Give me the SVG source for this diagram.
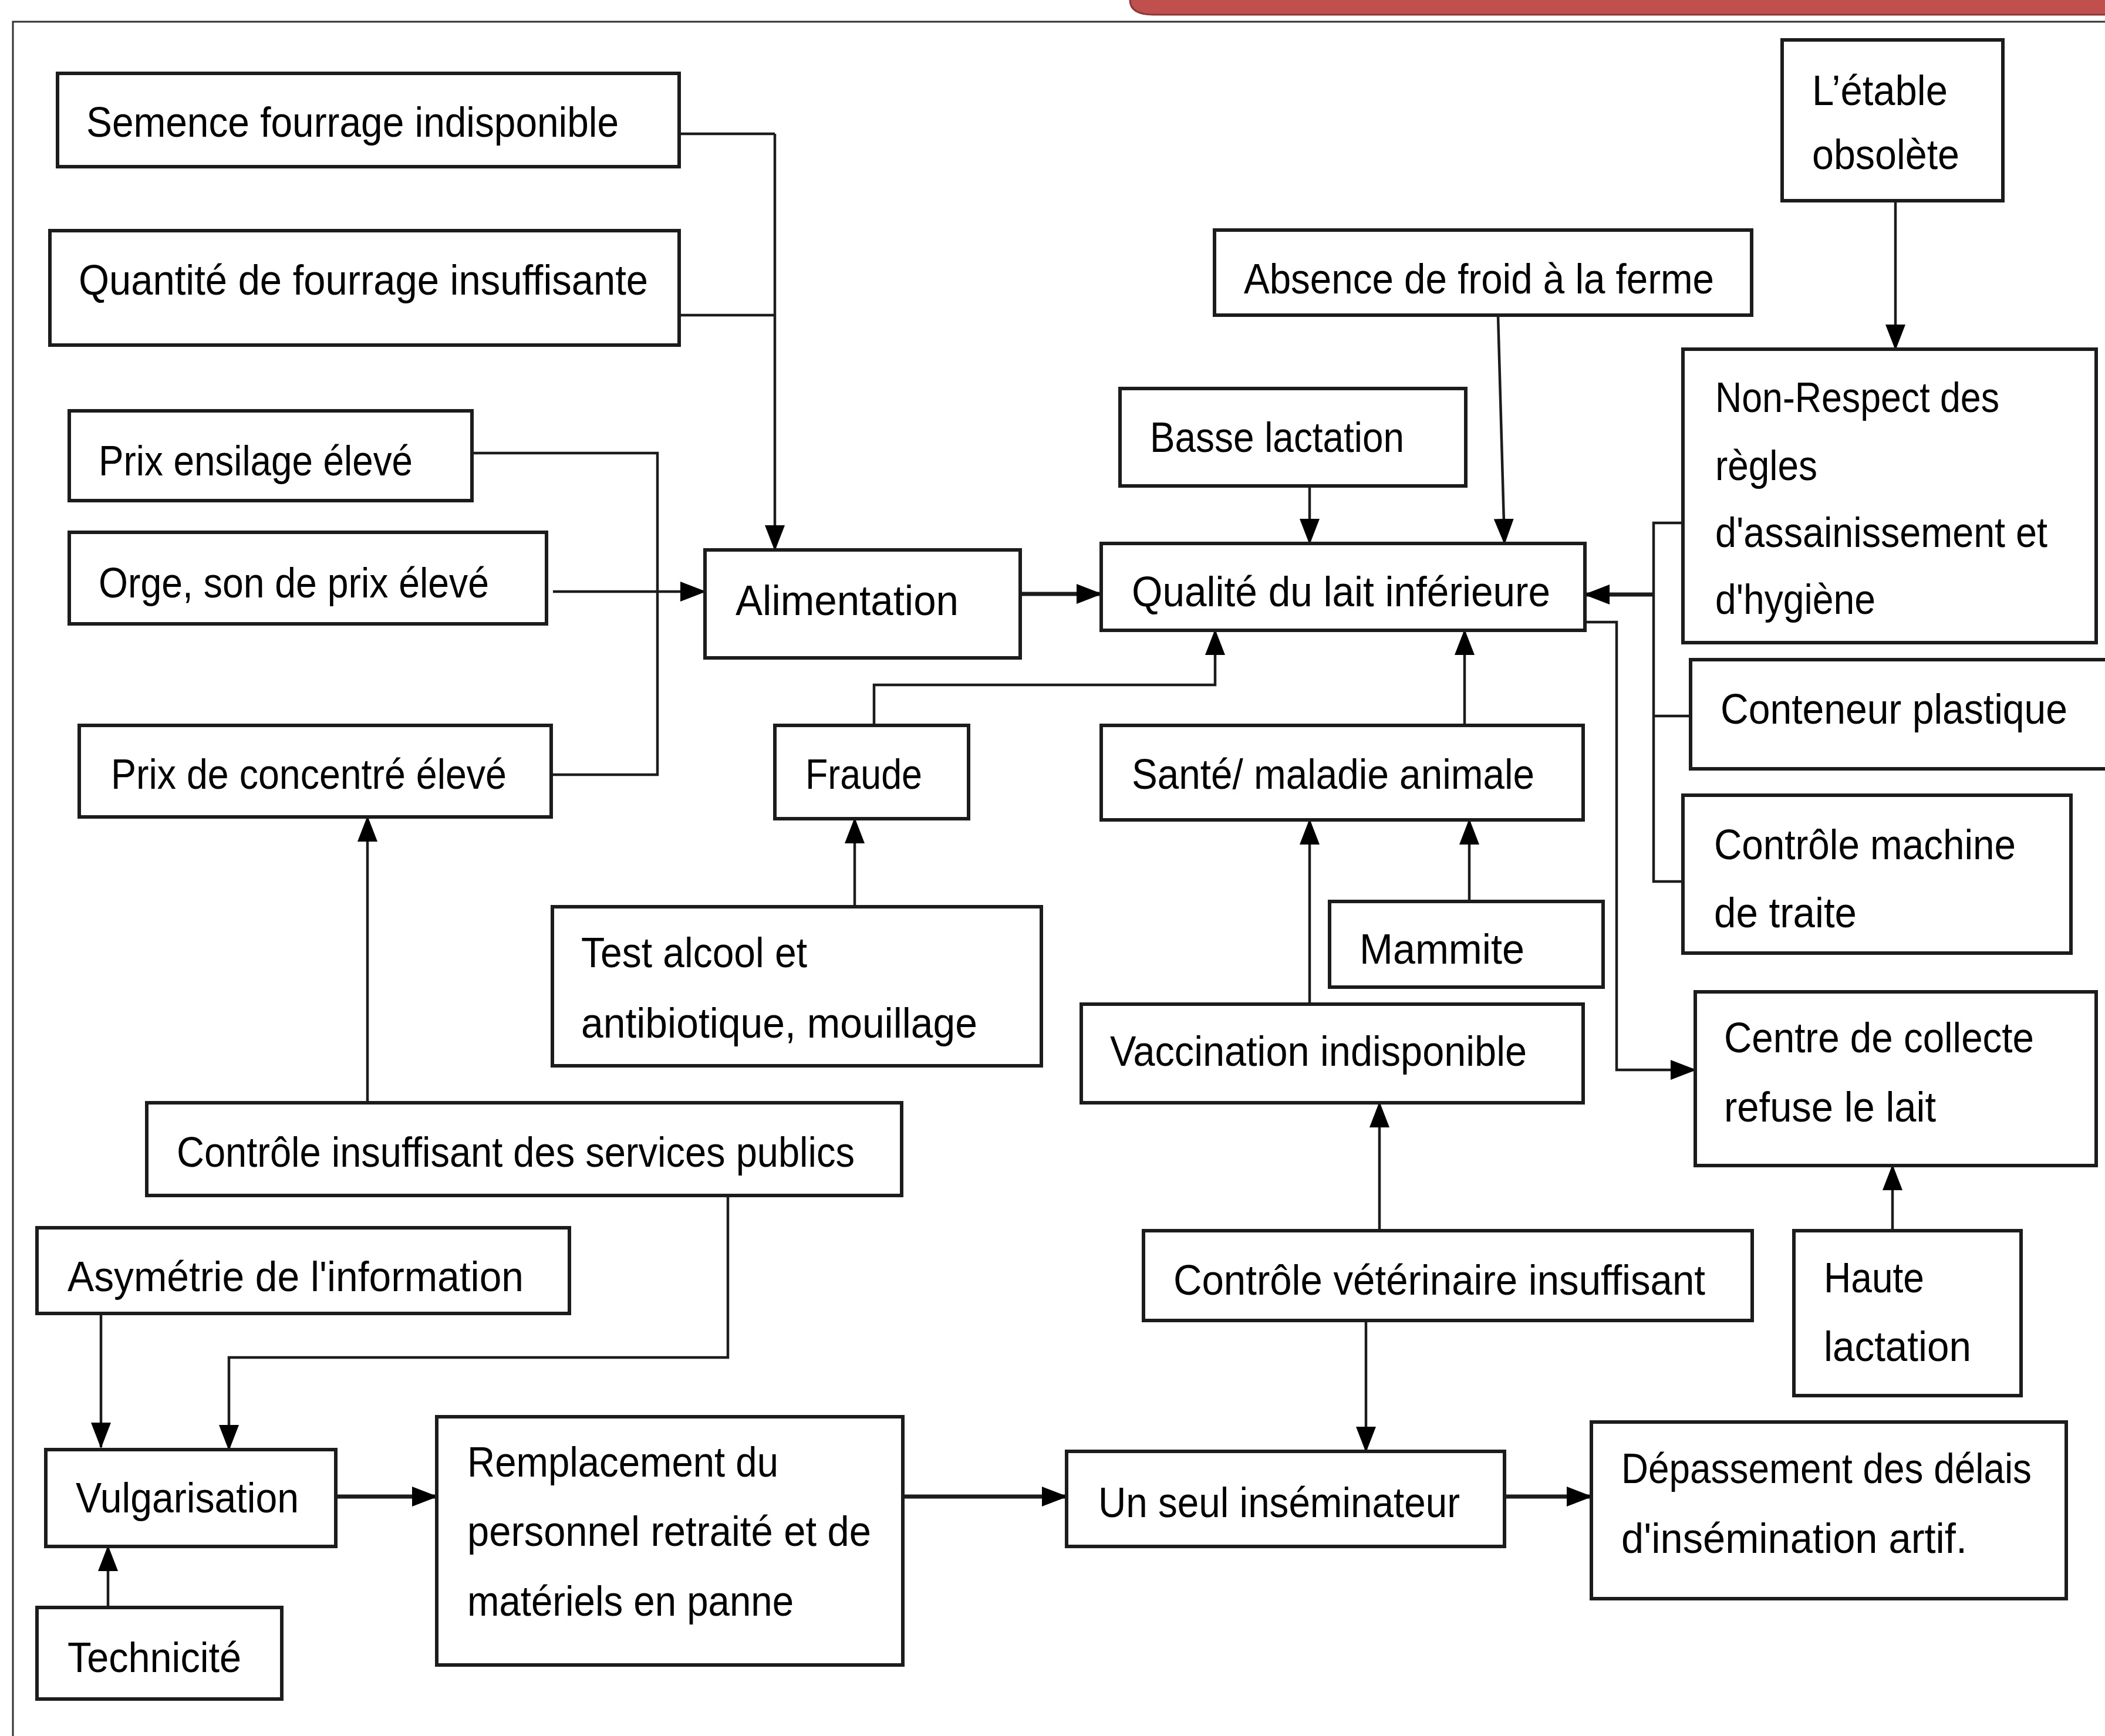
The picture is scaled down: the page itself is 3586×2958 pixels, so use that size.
<svg xmlns="http://www.w3.org/2000/svg" width="3586" height="2958" viewBox="0 0 3586 2958">
<style>
.box{fill:#fff;stroke:#1c1c1c;stroke-width:6}
.t{font-family:"Liberation Sans",Arial,sans-serif;font-size:73px;fill:#000}
.c{fill:none;stroke:#1c1c1c;stroke-width:4.5}
.ca{fill:none;stroke:#1c1c1c;stroke-width:4.5;marker-end:url(#ah)}
.cb{fill:none;stroke:#1c1c1c;stroke-width:7;marker-end:url(#ah)}
</style>
<defs>
<marker id="ah" markerUnits="userSpaceOnUse" markerWidth="44" markerHeight="34" refX="42" refY="17" orient="auto"><path d="M0,0 L44,17 L0,34 Z" fill="#000"/></marker>
</defs>
<rect width="3586" height="2958" fill="#fff"/>
<path d="M1925,-10 L1925,0 Q1925,25 1965,25 L3600,25 L3600,-10 Z" fill="#c0504d" stroke="#8c3836" stroke-width="3"/>
<path d="M3586,37 L22,37 L22,2958" fill="none" stroke="#333" stroke-width="3"/>

<g id="connectors">
<path class="c" d="M1157,228 L1320,228"/>
<path class="c" d="M1157,537 L1320,537"/>
<path class="ca" d="M1320,228 L1320,937"/>
<path class="c" d="M804,772 L1120,772 L1120,1320 L939,1320"/>
<path class="ca" d="M942,1008 L1201,1008"/>
<path class="cb" d="M1738,1012 L1876,1012"/>
<path class="ca" d="M2231,828 L2231,926"/>
<path class="ca" d="M2552,537 L2563,926"/>
<path class="ca" d="M3229,342 L3229,595"/>
<path class="c" d="M2867,891 L2817,891 L2817,1502 L2867,1502"/>
<path class="c" d="M2817,1220 L2880,1220"/>
<path class="cb" d="M2817,1013 L2700,1013"/>
<path class="ca" d="M2700,1060 L2754,1060 L2754,1823 L2888,1823"/>
<path class="ca" d="M1489,1236 L1489,1167 L2070,1167 L2070,1074"/>
<path class="ca" d="M2495,1236 L2495,1074"/>
<path class="ca" d="M1456,1545 L1456,1395"/>
<path class="ca" d="M2231,1711 L2231,1397"/>
<path class="ca" d="M2503,1536 L2503,1397"/>
<path class="ca" d="M2350,2097 L2350,1879"/>
<path class="ca" d="M3224,2097 L3224,1986"/>
<path class="ca" d="M626,1879 L626,1392"/>
<path class="ca" d="M1240,2037 L1240,2313 L390,2313 L390,2470"/>
<path class="ca" d="M172,2238 L172,2466"/>
<path class="ca" d="M184,2739 L184,2635"/>
<path class="cb" d="M572,2550 L744,2550"/>
<path class="cb" d="M1538,2550 L1817,2550"/>
<path class="ca" d="M2327,2250 L2327,2473"/>
<path class="cb" d="M2563,2550 L2711,2550"/>
</g>

<g id="n-semence"><rect class="box" x="98" y="125" width="1059" height="159"/><text class="t" x="147" y="233" textLength="907" lengthAdjust="spacingAndGlyphs">Semence fourrage indisponible</text></g>
<g id="n-quantite"><rect class="box" x="85" y="393" width="1072" height="195"/><text class="t" x="134" y="502" textLength="970" lengthAdjust="spacingAndGlyphs">Quantité de fourrage insuffisante</text></g>
<g id="n-ensilage"><rect class="box" x="118" y="700" width="686" height="153"/><text class="t" x="168" y="810" textLength="535" lengthAdjust="spacingAndGlyphs">Prix ensilage élevé</text></g>
<g id="n-orge"><rect class="box" x="118" y="907" width="813" height="156"/><text class="t" x="168" y="1018" textLength="665" lengthAdjust="spacingAndGlyphs">Orge, son de prix élevé</text></g>
<g id="n-alimentation"><rect class="box" x="1201" y="937" width="537" height="184"/><text class="t" x="1253" y="1048" textLength="380" lengthAdjust="spacingAndGlyphs">Alimentation</text></g>
<g id="n-etable"><rect class="box" x="3036" y="68" width="376" height="274"/><text class="t" x="3087" y="179" textLength="231" lengthAdjust="spacingAndGlyphs">L’étable</text><text class="t" x="3087" y="288" textLength="251" lengthAdjust="spacingAndGlyphs">obsolète</text></g>
<g id="n-absence"><rect class="box" x="2069" y="392" width="915" height="145"/><text class="t" x="2119" y="500" textLength="801" lengthAdjust="spacingAndGlyphs">Absence de froid à la ferme</text></g>
<g id="n-basse"><rect class="box" x="1908" y="662" width="589" height="166"/><text class="t" x="1959" y="770" textLength="433" lengthAdjust="spacingAndGlyphs">Basse lactation</text></g>
<g id="n-qualite"><rect class="box" x="1876" y="926" width="824" height="148"/><text class="t" x="1928" y="1033" textLength="713" lengthAdjust="spacingAndGlyphs">Qualité du lait inférieure</text></g>
<g id="n-nonrespect"><rect class="box" x="2867" y="595" width="704" height="500"/><text class="t" x="2922" y="702" textLength="484" lengthAdjust="spacingAndGlyphs">Non-Respect des</text><text class="t" x="2922" y="818" textLength="174" lengthAdjust="spacingAndGlyphs">règles</text><text class="t" x="2922" y="932" textLength="566" lengthAdjust="spacingAndGlyphs">d'assainissement et</text><text class="t" x="2922" y="1046" textLength="273" lengthAdjust="spacingAndGlyphs">d'hygiène</text></g>
<g id="n-concentre"><rect class="box" x="135" y="1236" width="804" height="156"/><text class="t" x="189" y="1344" textLength="674" lengthAdjust="spacingAndGlyphs">Prix de concentré élevé</text></g>
<g id="n-fraude"><rect class="box" x="1320" y="1236" width="330" height="159"/><text class="t" x="1372" y="1344" textLength="199" lengthAdjust="spacingAndGlyphs">Fraude</text></g>
<g id="n-sante"><rect class="box" x="1876" y="1236" width="821" height="161"/><text class="t" x="1928" y="1344" textLength="686" lengthAdjust="spacingAndGlyphs">Santé/ maladie animale</text></g>
<g id="n-conteneur"><rect class="box" x="2880" y="1124" width="720" height="186"/><text class="t" x="2931" y="1233" textLength="591" lengthAdjust="spacingAndGlyphs">Conteneur plastique</text></g>
<g id="n-machine"><rect class="box" x="2867" y="1355" width="661" height="269"/><text class="t" x="2920" y="1464" textLength="514" lengthAdjust="spacingAndGlyphs">Contrôle machine</text><text class="t" x="2920" y="1580" textLength="243" lengthAdjust="spacingAndGlyphs">de traite</text></g>
<g id="n-test"><rect class="box" x="941" y="1545" width="833" height="271"/><text class="t" x="990" y="1648" textLength="385" lengthAdjust="spacingAndGlyphs">Test alcool et</text><text class="t" x="990" y="1768" textLength="675" lengthAdjust="spacingAndGlyphs">antibiotique, mouillage</text></g>
<g id="n-mammite"><rect class="box" x="2265" y="1536" width="466" height="146"/><text class="t" x="2316" y="1642" textLength="281" lengthAdjust="spacingAndGlyphs">Mammite</text></g>
<g id="n-vaccination"><rect class="box" x="1842" y="1711" width="855" height="168"/><text class="t" x="1891" y="1816" textLength="710" lengthAdjust="spacingAndGlyphs">Vaccination indisponible</text></g>
<g id="n-centre"><rect class="box" x="2888" y="1690" width="683" height="296"/><text class="t" x="2937" y="1793" textLength="528" lengthAdjust="spacingAndGlyphs">Centre de collecte</text><text class="t" x="2937" y="1911" textLength="361" lengthAdjust="spacingAndGlyphs">refuse le lait</text></g>
<g id="n-controle-publics"><rect class="box" x="250" y="1879" width="1286" height="158"/><text class="t" x="301" y="1988" textLength="1155" lengthAdjust="spacingAndGlyphs">Contrôle insuffisant des services publics</text></g>
<g id="n-asymetrie"><rect class="box" x="63" y="2092" width="907" height="146"/><text class="t" x="115" y="2200" textLength="777" lengthAdjust="spacingAndGlyphs">Asymétrie de l'information</text></g>
<g id="n-veterinaire"><rect class="box" x="1948" y="2097" width="1037" height="153"/><text class="t" x="1999" y="2206" textLength="906" lengthAdjust="spacingAndGlyphs">Contrôle vétérinaire insuffisant</text></g>
<g id="n-haute"><rect class="box" x="3056" y="2097" width="387" height="281"/><text class="t" x="3107" y="2202" textLength="171" lengthAdjust="spacingAndGlyphs">Haute</text><text class="t" x="3107" y="2319" textLength="251" lengthAdjust="spacingAndGlyphs">lactation</text></g>
<g id="n-vulgarisation"><rect class="box" x="78" y="2470" width="494" height="165"/><text class="t" x="129" y="2577" textLength="380" lengthAdjust="spacingAndGlyphs">Vulgarisation</text></g>
<g id="n-remplacement"><rect class="box" x="744" y="2414" width="794" height="423"/><text class="t" x="796" y="2516" textLength="530" lengthAdjust="spacingAndGlyphs">Remplacement du</text><text class="t" x="796" y="2634" textLength="688" lengthAdjust="spacingAndGlyphs">personnel retraité et de</text><text class="t" x="796" y="2753" textLength="556" lengthAdjust="spacingAndGlyphs">matériels en panne</text></g>
<g id="n-inseminateur"><rect class="box" x="1817" y="2473" width="746" height="162"/><text class="t" x="1871" y="2585" textLength="616" lengthAdjust="spacingAndGlyphs">Un seul inséminateur</text></g>
<g id="n-depassement"><rect class="box" x="2711" y="2423" width="809" height="301"/><text class="t" x="2762" y="2527" textLength="699" lengthAdjust="spacingAndGlyphs">Dépassement des délais</text><text class="t" x="2762" y="2646" textLength="589" lengthAdjust="spacingAndGlyphs">d'insémination artif.</text></g>
<g id="n-technicite"><rect class="box" x="63" y="2739" width="417" height="156"/><text class="t" x="115" y="2849" textLength="296" lengthAdjust="spacingAndGlyphs">Technicité</text></g>
</svg>
